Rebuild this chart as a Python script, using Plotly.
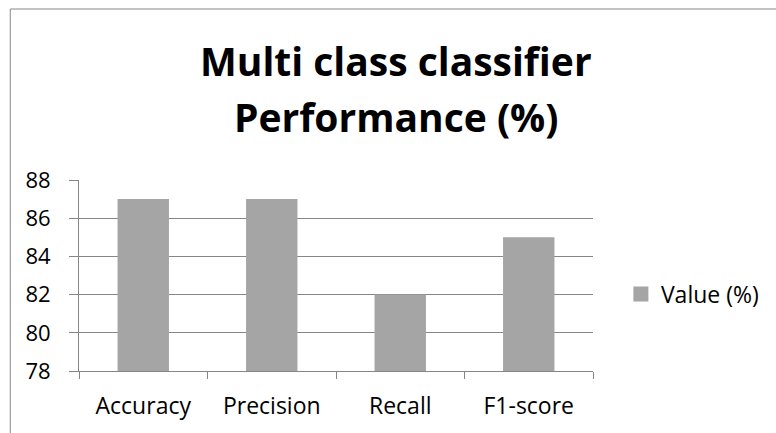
import plotly.graph_objects as go

categories = ["Accuracy", "Precision", "Recall", "F1-score"]
values = [87, 87, 82, 85]
series_name = "Value (%)"
y_ticks = [78, 80, 82, 84, 86, 88]
title_lines = ["Multi class classifier", "Performance (%)"]

W, H = 776, 433
L, R, T, B = 79, 595, 180, 371
pw, ph = R - L, B - T
BAR_COLOR = "#A5A5A5"
GRID = "#868686"

fig = go.Figure()
fig.add_trace(go.Bar(x=categories, y=values, name=series_name,
                     marker=dict(color=BAR_COLOR, line=dict(width=0)),
                     width=0.4, showlegend=False))
# legend proxy (square swatch)
fig.add_trace(go.Scatter(x=[categories[0]], y=[None], mode="markers", name=series_name,
                         marker=dict(symbol="square", size=15, color=BAR_COLOR),
                         showlegend=True))

font = "'Open Sans', sans-serif"
fig.update_layout(
    width=W, height=H,
    margin=dict(l=L, r=W - R, t=T, b=H - B, pad=0),
    paper_bgcolor="white", plot_bgcolor="white",
    font=dict(family=font, size=23, color="#000000"),
    showlegend=True,
    legend=dict(x=(623 - L) / pw, y=(B - 294) / ph, xanchor="left", yanchor="middle",
                font=dict(size=23), itemwidth=30, bgcolor="rgba(0,0,0,0)"),
    xaxis=dict(showgrid=False, showline=True, linecolor=GRID, linewidth=1,
               ticks="outside", ticklen=7, tickcolor=GRID, tickson="boundaries",
               ticklabelstandoff=14, tickfont=dict(size=23)),
    yaxis=dict(range=[78, 88], tickvals=y_ticks, showgrid=True, gridcolor=GRID,
               gridwidth=1, showline=True, linecolor=GRID, linewidth=1,
               ticks="outside", ticklen=9, tickcolor=GRID, zeroline=False,
               ticklabelstandoff=14, tickfont=dict(size=22)),
)

for i, (line, yc) in enumerate(zip(title_lines, [61, 116])):
    fig.add_annotation(text="<b>%s</b>" % line, xref="paper", yref="paper",
                       x=(397 - L) / pw, y=(B - yc) / ph, xanchor="center", yanchor="middle",
                       showarrow=False, font=dict(size=39, family=font, color="#000000"))

# outer chart frame (Excel-style border)
fig.add_shape(type="rect", xref="paper", yref="paper",
              x0=(10 - L) / pw, x1=(W + 20 - L) / pw,
              y0=(B - (H + 20)) / ph, y1=(B - 9) / ph,
              line=dict(color=GRID, width=1), fillcolor="rgba(0,0,0,0)", layer="below")

fig.write_html("out.html", config={"displayModeBar": False},
               post_script="document.body.style.margin='0';document.body.style.overflow='hidden';")
